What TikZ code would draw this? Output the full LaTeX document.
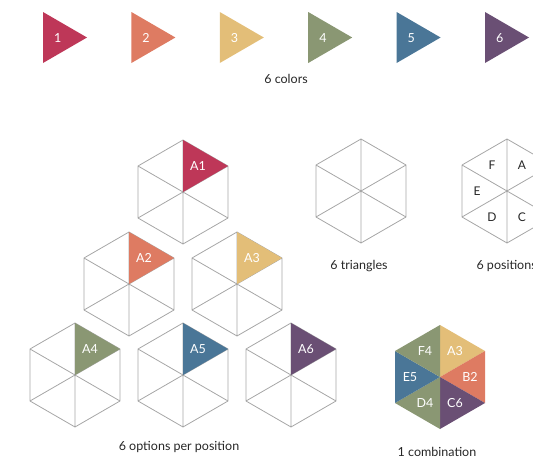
\documentclass[tikz,border=0pt]{standalone}
\usepackage{fontspec}
\setmainfont{Lato}
\definecolor{colA}{HTML}{BE3758}
\definecolor{colB}{HTML}{DE7B62}
\definecolor{colC}{HTML}{E3BE78}
\definecolor{colD}{HTML}{8A9773}
\definecolor{colE}{HTML}{4A7697}
\definecolor{colF}{HTML}{6A4F74}
\definecolor{hexgray}{HTML}{A6A6A6}
\tikzset{
  caption/.style={font=\fontsize{12.5}{14}\selectfont,text=black!85},
  tlabel/.style={font=\fontsize{12.5}{14}\selectfont,text=white},
  plabel/.style={font=\fontsize{12}{14}\selectfont,text=black!85},
  pics/hexcell/.style={code={
    \coordinate (-o) at (0,0);
    \coordinate (-t) at (0,-52);
    \coordinate (-ur) at (45,-26);
    \coordinate (-lr) at (45,26);
    \coordinate (-b) at (0,52);
    \coordinate (-ll) at (-45,26);
    \coordinate (-ul) at (-45,-26);
    \draw[draw=hexgray,line width=0.8pt,line join=round]
      (-t) -- (-ur) -- (-lr) -- (-b) -- (-ll) -- (-ul) -- cycle
      (-t) -- (-b) (-ur) -- (-ll) (-lr) -- (-ul);
  }},
  pics/hexsolid/.style={code={
    \coordinate (-o) at (0,0);
    \coordinate (-t) at (0,-52);
    \coordinate (-ur) at (45,-26);
    \coordinate (-lr) at (45,26);
    \coordinate (-b) at (0,52);
    \coordinate (-ll) at (-45,26);
    \coordinate (-ul) at (-45,-26);
  }},
}
\begin{document}
\begin{tikzpicture}[x=1pt,y=-1pt]
  \useasboundingbox (0,0) rectangle (533,458);
  \clip (0,0) rectangle (533,458);
  % the six colours
  \fill[colA] (43.0,12) -- (43.0,63) -- (87.0,37.5) -- cycle;
  \fill[colB] (131.4,12) -- (131.4,63) -- (175.4,37.5) -- cycle;
  \fill[colC] (219.8,12) -- (219.8,63) -- (263.8,37.5) -- cycle;
  \fill[colD] (308.2,12) -- (308.2,63) -- (352.2,37.5) -- cycle;
  \fill[colE] (396.6,12) -- (396.6,63) -- (440.6,37.5) -- cycle;
  \fill[colF] (485.0,12) -- (485.0,63) -- (529.0,37.5) -- cycle;
  \node[tlabel] (c1) at (57.7,38) {1};
  \node[tlabel] (c2) at (146.1,38) {2};
  \node[tlabel] (c3) at (234.5,38) {3};
  \node[tlabel] (c4) at (322.9,38) {4};
  \node[tlabel] (c5) at (411.3,38) {5};
  \node[tlabel] (c6) at (499.7,38) {6};
  \node[caption] (colcap) at (286,79) {6 colors};
  % options for position A
  \pic (h1) at (183,192) {hexcell};
  \pic (h2) at (129,284) {hexcell};
  \pic (h3) at (237,284) {hexcell};
  \pic (h4) at (75,375) {hexcell};
  \pic (h5) at (183,375) {hexcell};
  \pic (h6) at (291,375) {hexcell};
  \fill[colA] (h1-o) -- (h1-t) -- (h1-ur) -- cycle;
  \fill[colB] (h2-o) -- (h2-t) -- (h2-ur) -- cycle;
  \fill[colC] (h3-o) -- (h3-t) -- (h3-ur) -- cycle;
  \fill[colD] (h4-o) -- (h4-t) -- (h4-ur) -- cycle;
  \fill[colE] (h5-o) -- (h5-t) -- (h5-ur) -- cycle;
  \fill[colF] (h6-o) -- (h6-t) -- (h6-ur) -- cycle;
  \node[tlabel] (a1) at ([shift={(15,-26)}]h1-o) {A1};
  \node[tlabel] (a2) at ([shift={(15,-26)}]h2-o) {A2};
  \node[tlabel] (a3) at ([shift={(15,-26)}]h3-o) {A3};
  \node[tlabel] (a4) at ([shift={(15,-26)}]h4-o) {A4};
  \node[tlabel] (a5) at ([shift={(15,-26)}]h5-o) {A5};
  \node[tlabel] (a6) at ([shift={(15,-26)}]h6-o) {A6};
  \node[caption] (optcap) at (179,447) {6 options per position};
  % empty hexagon
  \pic (tri) at (361,191) {hexcell};
  \node[caption] (tricap) at (359,266) {6 triangles};
  % positions
  \pic (pos) at (507,191) {hexcell};
  \node[plabel] (pA) at ([shift={(15,-26)}]pos-o) {A};
  \node[plabel] (pB) at ([shift={(30,0)}]pos-o) {B};
  \node[plabel] (pC) at ([shift={(15,26)}]pos-o) {C};
  \node[plabel] (pD) at ([shift={(-15,26)}]pos-o) {D};
  \node[plabel] (pE) at ([shift={(-30,0)}]pos-o) {E};
  \node[plabel] (pF) at ([shift={(-15,-26)}]pos-o) {F};
  \node[caption,anchor=west] (poscap) at (473,266) {6 positions};
  % one combination
  \pic (cmb) at (440,377) {hexsolid};
  \fill[colC] (cmb-o) -- (cmb-t) -- (cmb-ur) -- cycle;
  \fill[colB] (cmb-o) -- (cmb-ur) -- (cmb-lr) -- cycle;
  \fill[colF] (cmb-o) -- (cmb-lr) -- (cmb-b) -- cycle;
  \fill[colD] (cmb-o) -- (cmb-b) -- (cmb-ll) -- cycle;
  \fill[colE] (cmb-o) -- (cmb-ll) -- (cmb-ul) -- cycle;
  \fill[colD] (cmb-o) -- (cmb-ul) -- (cmb-t) -- cycle;
  \node[tlabel] (k3) at ([shift={(15,-26)}]cmb-o) {A3};
  \node[tlabel] (k2) at ([shift={(30,0)}]cmb-o) {B2};
  \node[tlabel] (k6) at ([shift={(15,26)}]cmb-o) {C6};
  \node[tlabel] (k4) at ([shift={(-15,26)}]cmb-o) {D4};
  \node[tlabel] (k5) at ([shift={(-30,0)}]cmb-o) {E5};
  \node[tlabel] (kf) at ([shift={(-15,-26)}]cmb-o) {F4};
  \node[caption] (cmbcap) at (437,452) {1 combination};
\end{tikzpicture}
\end{document}
